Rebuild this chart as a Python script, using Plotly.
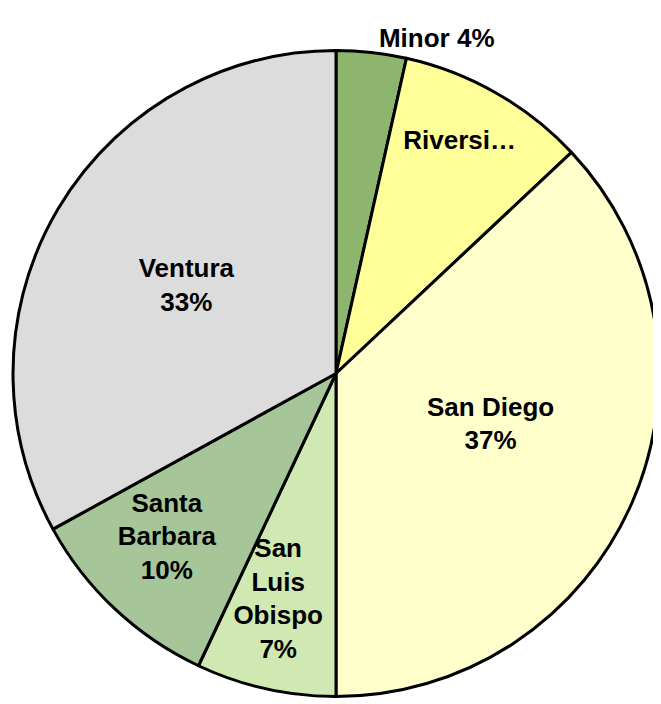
import plotly.graph_objects as go

labels = ["Minor", "Riverside", "San Diego", "San Luis Obispo", "Santa Barbara", "Ventura"]
values = [3.5, 9.5, 37.0, 7.0, 10.0, 33.0]
texts = ["Minor 4%", "Riversi…<br> ", "San Diego<br>37%<br> ",
         "San<br>Luis<br>Obispo<br>7%<br> <br> ",
         "Santa<br>Barbara<br>10%<br> ", "Ventura<br>33%"]
colors = ["#8db56d", "#ffff99", "#ffffcc", "#d0e9b2", "#a6c598", "#dcdcdc"]
positions = ["outside", "inside", "inside", "inside", "inside", "inside"]

fig = go.Figure(go.Pie(
    labels=labels, values=values, text=texts, textinfo="text",
    sort=False, direction="clockwise", rotation=0,
    marker=dict(colors=colors, line=dict(color="black", width=3)),
    textposition=positions, insidetextorientation="horizontal",
    textfont=dict(family="Liberation Sans, Arial", size=26, color="black", weight="bold"),
    hoverinfo="label+percent", showlegend=False,
))
fig.update_layout(
    width=661, height=704, margin=dict(l=5, r=10, t=42, b=15),
    paper_bgcolor="white", plot_bgcolor="white",
    uniformtext=dict(minsize=26, mode="show"),
)
fig.write_html("out.html")
